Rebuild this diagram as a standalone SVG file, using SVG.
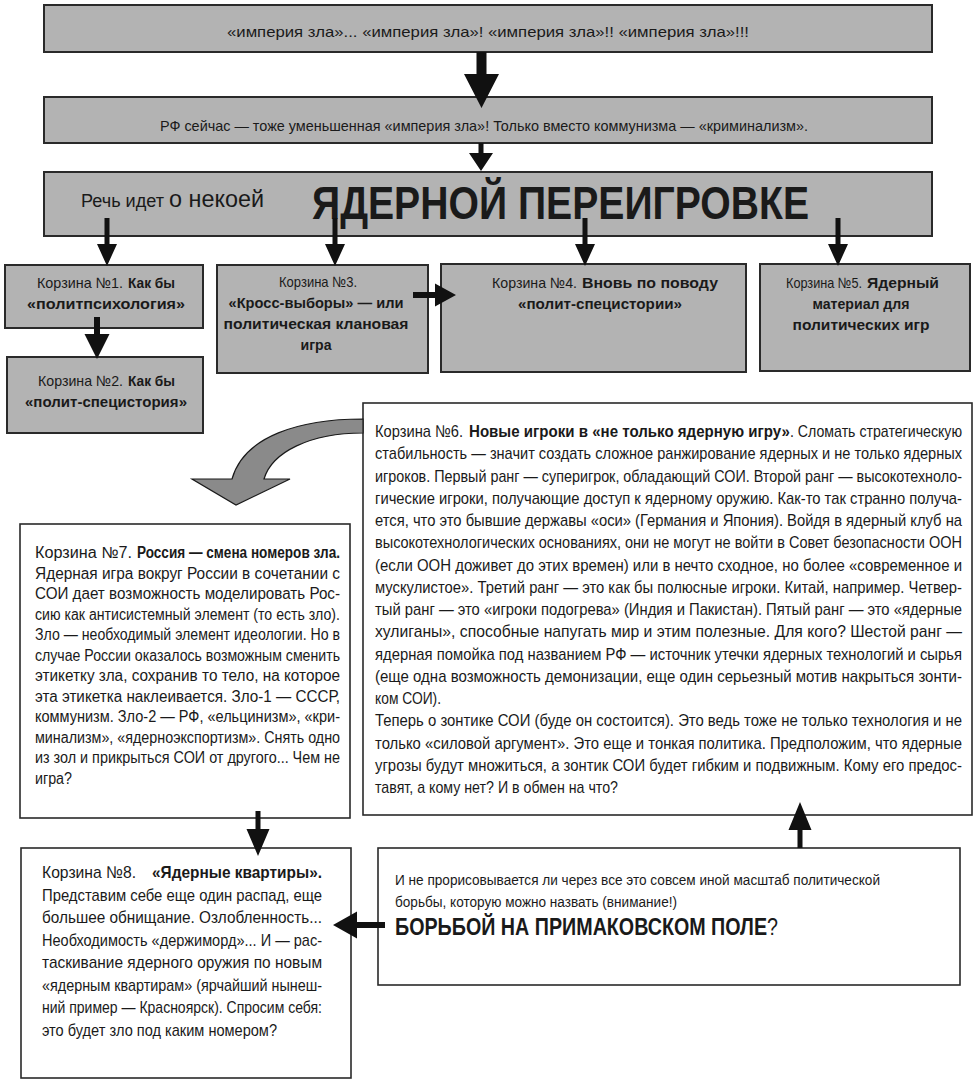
<svg xmlns="http://www.w3.org/2000/svg" width="978" height="1084" viewBox="0 0 978 1084">
<style>
  text { font-family: "Liberation Sans", Arial, sans-serif; fill: #1a1a1a; }
  .g { fill: #b3b3b3; stroke: #2a2a2a; stroke-width: 2; }
  .w { fill: #ffffff; stroke: #2a2a2a; stroke-width: 1.6; }
  .b { font-weight: bold; }
  .c { text-anchor: middle; }
  .f15 { font-size: 15px; }
  .f6 { font-size: 17px; }
  .f7 { font-size: 16px; }
  .arr { fill: #111111; stroke: none; }
  .curve { fill: #8a8a8a; stroke: #1a1a1a; stroke-width: 1.2; }
</style>
<rect width="978" height="1084" fill="#ffffff"/>

<g id="top1">
  <rect class="g" x="44" y="5" width="888" height="47"/>
  <text class="f15 c" x="488" y="37" textLength="522" lengthAdjust="spacingAndGlyphs">«империя зла»...  «империя зла»!  «империя зла»!!  «империя зла»!!!</text>
</g>
<g id="top2">
  <rect class="g" x="44" y="97" width="888" height="46"/>
  <text class="f15 c" x="484" y="131" textLength="648" lengthAdjust="spacingAndGlyphs">РФ сейчас — тоже уменьшенная «империя зла»! Только вместо коммунизма — «криминализм».</text>
</g>
<g id="top3">
  <rect class="g" x="44" y="172" width="888" height="64"/>
  <text x="81" y="207" font-size="18" textLength="83" lengthAdjust="spacingAndGlyphs">Речь идет</text>
  <text x="169" y="207" font-size="23" textLength="95" lengthAdjust="spacingAndGlyphs">о некоей</text>
  <text class="b" x="312" y="219" font-size="46" textLength="497" lengthAdjust="spacingAndGlyphs">ЯДЕРНОЙ  ПЕРЕИГРОВКЕ</text>
</g>

<g id="basket1">
  <rect class="g" x="5" y="265" width="198" height="63"/>
  <text class="f15" x="37" y="288" textLength="86" lengthAdjust="spacingAndGlyphs">Корзина №1.</text>
  <text class="f15 b" x="128" y="288" textLength="47" lengthAdjust="spacingAndGlyphs">Как бы</text>
  <text class="f15 c b" x="106" y="309" textLength="158" lengthAdjust="spacingAndGlyphs">«политпсихология»</text>
</g>
<g id="basket2">
  <rect class="g" x="7" y="357" width="196" height="76"/>
  <text class="f15" x="38" y="386" textLength="85" lengthAdjust="spacingAndGlyphs">Корзина №2.</text>
  <text class="f15 b" x="128" y="386" textLength="47" lengthAdjust="spacingAndGlyphs">Как бы</text>
  <text class="f15 c b" x="106" y="407" textLength="162" lengthAdjust="spacingAndGlyphs">«полит-специстория»</text>
</g>
<g id="basket3">
  <rect class="g" x="217" y="265" width="211" height="108"/>
  <text class="f15 c" x="318" y="287" textLength="78" lengthAdjust="spacingAndGlyphs">Корзина №3.</text>
  <text class="f15 c b" x="316" y="308" textLength="175" lengthAdjust="spacingAndGlyphs">«Кросс-выборы» — или</text>
  <text class="f15 c b" x="316" y="329" textLength="185" lengthAdjust="spacingAndGlyphs">политическая клановая</text>
  <text class="f15 c b" x="316" y="350" textLength="31" lengthAdjust="spacingAndGlyphs">игра</text>
</g>
<g id="basket4">
  <rect class="g" x="441" y="264" width="305" height="108"/>
  <text class="f15" x="492" y="288" textLength="85" lengthAdjust="spacingAndGlyphs">Корзина №4.</text>
  <text class="f15 b" x="582" y="288" textLength="136" lengthAdjust="spacingAndGlyphs">Вновь по поводу</text>
  <text class="f15 c b" x="600" y="309" textLength="164" lengthAdjust="spacingAndGlyphs">«полит-специстории»</text>
</g>
<g id="basket5">
  <rect class="g" x="760" y="264" width="210" height="107"/>
  <text class="f15" x="786" y="288" textLength="76" lengthAdjust="spacingAndGlyphs">Корзина №5.</text>
  <text class="f15 b" x="867" y="288" textLength="72" lengthAdjust="spacingAndGlyphs">Ядерный</text>
  <text class="f15 c b" x="861" y="309" textLength="97" lengthAdjust="spacingAndGlyphs">материал для</text>
  <text class="f15 c b" x="861" y="330" textLength="137" lengthAdjust="spacingAndGlyphs">политических игр</text>
</g>

<g id="basket6">
  <rect class="w" x="363" y="403" width="609" height="412"/>
  <g class="f6">
    <text x="375" y="437" textLength="88" lengthAdjust="spacingAndGlyphs">Корзина №6.</text>
    <text class="b" x="469" y="437" textLength="321" lengthAdjust="spacingAndGlyphs">Новые игроки в «не только ядерную игру»</text>
    <text x="790" y="437" textLength="172" lengthAdjust="spacingAndGlyphs">. Сломать стратегическую</text>
    <text x="375" y="459.25" textLength="587" lengthAdjust="spacingAndGlyphs">стабильность — значит создать сложное ранжирование ядерных и не только ядерных</text>
    <text x="375" y="481.5" textLength="587" lengthAdjust="spacingAndGlyphs">игроков. Первый ранг — суперигрок, обладающий СОИ. Второй ранг — высокотехноло-</text>
    <text x="375" y="503.75" textLength="587" lengthAdjust="spacingAndGlyphs">гические игроки, получающие доступ к ядерному оружию. Как-то так странно получа-</text>
    <text x="375" y="526" textLength="587" lengthAdjust="spacingAndGlyphs">ется, что это бывшие державы «оси» (Германия и Япония). Войдя в ядерный клуб на</text>
    <text x="375" y="548.25" textLength="587" lengthAdjust="spacingAndGlyphs">высокотехнологических основаниях, они не могут не войти в Совет безопасности ООН</text>
    <text x="375" y="570.5" textLength="587" lengthAdjust="spacingAndGlyphs">(если ООН доживет до этих времен) или в нечто сходное, но более «современное и</text>
    <text x="375" y="592.75" textLength="587" lengthAdjust="spacingAndGlyphs">мускулистое». Третий ранг — это как бы полюсные игроки. Китай, например. Четвер-</text>
    <text x="375" y="615" textLength="587" lengthAdjust="spacingAndGlyphs">тый ранг — это «игроки подогрева» (Индия и Пакистан). Пятый ранг — это «ядерные</text>
    <text x="375" y="637.25" textLength="587" lengthAdjust="spacingAndGlyphs">хулиганы», способные напугать мир и этим полезные. Для кого? Шестой ранг —</text>
    <text x="375" y="659.5" textLength="587" lengthAdjust="spacingAndGlyphs">ядерная помойка под названием РФ — источник утечки ядерных технологий и сырья</text>
    <text x="375" y="681.75" textLength="587" lengthAdjust="spacingAndGlyphs">(еще одна возможность демонизации, еще один серьезный мотив накрыться зонти-</text>
    <text x="375" y="704" textLength="66" lengthAdjust="spacingAndGlyphs">ком СОИ).</text>
    <text x="375" y="726.25" textLength="587" lengthAdjust="spacingAndGlyphs">Теперь о зонтике СОИ (буде он состоится). Это ведь тоже не только технология и не</text>
    <text x="375" y="748.5" textLength="587" lengthAdjust="spacingAndGlyphs">только «силовой аргумент». Это еще и тонкая политика. Предположим, что ядерные</text>
    <text x="375" y="770.75" textLength="587" lengthAdjust="spacingAndGlyphs">угрозы будут множиться, а зонтик СОИ будет гибким и подвижным. Кому его предос-</text>
    <text x="375" y="793" textLength="243" lengthAdjust="spacingAndGlyphs">тавят, а кому нет? И в обмен на что?</text>
  </g>
</g>

<g id="basket7">
  <rect class="w" x="20" y="524" width="330" height="294"/>
  <g class="f7">
    <text x="35" y="558" textLength="97" lengthAdjust="spacingAndGlyphs">Корзина №7.</text>
    <text class="b" x="137" y="558" textLength="203" lengthAdjust="spacingAndGlyphs">Россия — смена номеров зла.</text>
    <text x="35" y="578.5" textLength="305" lengthAdjust="spacingAndGlyphs">Ядерная игра вокруг России в сочетании с</text>
    <text x="35" y="599" textLength="305" lengthAdjust="spacingAndGlyphs">СОИ дает возможность моделировать Рос-</text>
    <text x="35" y="619.5" textLength="305" lengthAdjust="spacingAndGlyphs">сию как антисистемный элемент (то есть зло).</text>
    <text x="35" y="640" textLength="305" lengthAdjust="spacingAndGlyphs">Зло — необходимый  элемент идеологии. Но в</text>
    <text x="35" y="660.5" textLength="305" lengthAdjust="spacingAndGlyphs">случае России оказалось возможным сменить</text>
    <text x="35" y="681" textLength="305" lengthAdjust="spacingAndGlyphs">этикетку зла, сохранив то тело, на которое</text>
    <text x="35" y="701.5" textLength="305" lengthAdjust="spacingAndGlyphs">эта этикетка наклеивается. Зло-1 — СССР,</text>
    <text x="35" y="722" textLength="305" lengthAdjust="spacingAndGlyphs">коммунизм. Зло-2 — РФ, «ельцинизм», «кри-</text>
    <text x="35" y="742.5" textLength="305" lengthAdjust="spacingAndGlyphs">минализм», «ядерноэкспортизм».  Снять одно</text>
    <text x="35" y="763" textLength="305" lengthAdjust="spacingAndGlyphs">из зол и прикрыться СОИ от другого... Чем не</text>
    <text x="35" y="783.5" textLength="37" lengthAdjust="spacingAndGlyphs">игра?</text>
  </g>
</g>

<g id="basket8">
  <rect class="w" x="21" y="848" width="330" height="230"/>
  <g class="f6">
    <text x="42" y="878" textLength="94" lengthAdjust="spacingAndGlyphs">Корзина №8.</text>
    <text class="b" x="152" y="878" textLength="170" lengthAdjust="spacingAndGlyphs">«Ядерные квартиры».</text>
    <text x="42" y="900.5" textLength="280" lengthAdjust="spacingAndGlyphs">Представим себе еще один распад, еще</text>
    <text x="42" y="923" textLength="280" lengthAdjust="spacingAndGlyphs">большее обнищание. Озлобленность...</text>
    <text x="42" y="945.5" textLength="280" lengthAdjust="spacingAndGlyphs">Необходимость «держиморд»... И — рас-</text>
    <text x="42" y="968" textLength="280" lengthAdjust="spacingAndGlyphs">таскивание ядерного оружия по новым</text>
    <text x="42" y="990.5" textLength="280" lengthAdjust="spacingAndGlyphs">«ядерным квартирам» (ярчайший нынеш-</text>
    <text x="42" y="1013" textLength="280" lengthAdjust="spacingAndGlyphs">ний пример — Красноярск). Спросим себя:</text>
    <text x="42" y="1035.5" textLength="235" lengthAdjust="spacingAndGlyphs">это будет зло под каким номером?</text>
  </g>
</g>

<g id="primakov">
  <rect class="w" x="378" y="848" width="582" height="137"/>
  <text x="395" y="885" font-size="14" textLength="485" lengthAdjust="spacingAndGlyphs">И не прорисовывается ли через все это совсем иной масштаб политической</text>
  <text x="395" y="907" font-size="14" textLength="282" lengthAdjust="spacingAndGlyphs">борьбы, которую можно назвать (внимание!)</text>
  <text x="395" y="935" font-size="24" textLength="383" lengthAdjust="spacingAndGlyphs"><tspan class="b">БОРЬБОЙ НА ПРИМАКОВСКОМ ПОЛЕ</tspan>?</text>
</g>

<g id="connectors">
  <path class="arr" d="M476.5,52 H486.5 V74 H499 L481.5,108 L464,74 H476.5 Z"/>
  <path class="arr" d="M478.5,143 H483.5 V153 H493 L481,171 L469,153 H478.5 Z"/>
  <path class="arr" d="M104.5,218 H109.5 V244 H117 L107,266 L97,244 H104.5 Z"/>
  <path class="arr" d="M332.5,218 H337.5 V244 H345 L335,266 L325,244 H332.5 Z"/>
  <path class="arr" d="M582.5,218 H587.5 V244 H595 L585,266 L575,244 H582.5 Z"/>
  <path class="arr" d="M835.5,218 H840.5 V244 H848 L838,266 L828,244 H835.5 Z"/>
  <path class="arr" d="M94,317 H100 V334 H109.5 L97,359 L84.5,334 H94 Z"/>
  <path class="arr" d="M413,292 H435 V283.5 L456,295 L435,306.5 V298 H413 Z"/>
  <path class="arr" d="M255.5,811 H260.5 V829 H269.5 L258,856 L246.5,829 H255.5 Z"/>
  <path class="arr" d="M797.5,848 H802.5 V830 H811.5 L800,802 L788.5,830 H797.5 Z"/>
  <path class="arr" d="M385,922 H357 V911.5 L333,925 L357,938.5 V928 H385 Z"/>
  <path class="curve" d="M363,419 C300,419 244,436 232,479 L192,479 L236,505 L290,479 L264,479 C272,452 310,433 363,433 Z"/>
</g>
</svg>
